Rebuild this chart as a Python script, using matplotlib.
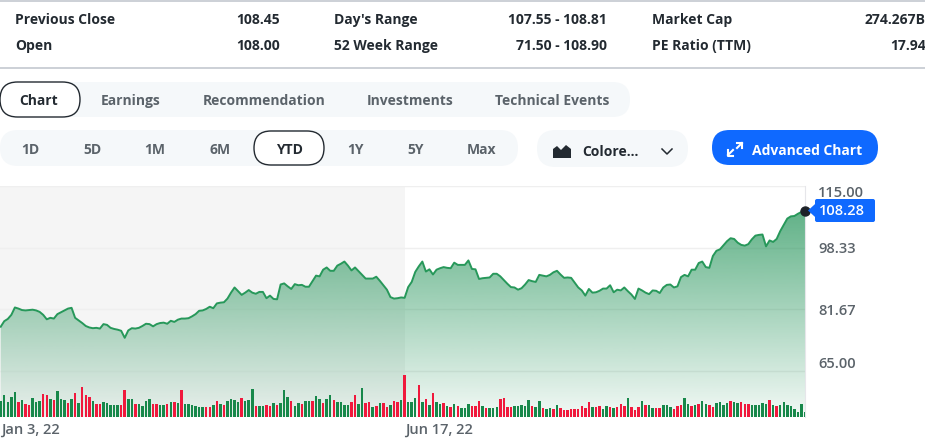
import matplotlib
matplotlib.use('Agg')
import matplotlib.pyplot as plt
from matplotlib.patches import FancyBboxPatch, Polygon
import numpy as np

plt.rcParams['font.family'] = ['Open Sans', 'DejaVu Sans']

# daily close, one per session since Jan 3
closes = [77.0, 78.5, 79.1, 80.2, 82.2, 81.9, 81.5, 81.4, 81.5, 81.6,
          81.4, 81.0, 80.2, 79.0, 79.4, 79.2, 80.4, 80.9, 81.4, 81.9,
          82.1, 79.4, 78.7, 78.0, 77.2, 76.8, 76.6, 76.7, 76.5, 77.7,
          77.5, 76.7, 76.4, 76.2, 75.9, 74.0, 76.0, 76.6, 76.5, 76.7,
          77.2, 77.8, 77.7, 77.1, 77.7, 78.0, 78.1, 77.8, 78.6, 78.3,
          78.9, 79.2, 79.2, 79.3, 79.8, 80.4, 81.3, 81.4, 81.8, 82.4,
          82.0, 83.3, 83.5, 83.6, 84.6, 86.2, 87.6, 86.6, 85.6, 86.2,
          86.9, 86.2, 85.9, 86.4, 86.4, 84.7, 85.4, 84.5, 84.4, 88.4,
          88.7, 87.9, 87.2, 88.5, 88.2, 88.3, 87.8, 87.8, 89.3, 90.8,
          90.6, 92.4, 93.0, 92.1, 92.1, 93.5, 94.0, 94.6, 93.5, 92.2,
          93.0, 92.0, 91.0, 90.0, 90.0, 90.0, 90.5, 89.4, 88.2, 87.0,
          85.0, 84.6, 84.7, 84.9, 84.8, 87.7, 89.1, 91.8, 93.3, 94.6,
          91.9, 92.5, 91.1, 92.4, 92.8, 93.1, 92.9, 92.8, 94.3, 93.7,
          93.7, 93.7, 94.9, 92.6, 92.5, 89.9, 90.1, 90.2, 90.3, 91.3,
          91.3, 90.6, 89.6, 88.6, 87.7, 87.6, 87.0, 87.4, 88.4, 89.6,
          89.3, 89.1, 91.0, 90.8, 90.6, 91.0, 91.7, 92.1, 91.1, 90.2,
          90.3, 90.2, 88.9, 87.6, 86.8, 85.4, 87.2, 86.2, 86.3, 86.7,
          87.3, 87.3, 88.2, 86.3, 87.0, 86.8, 87.6, 86.6, 85.7, 84.5,
          87.3, 86.8, 86.2, 85.8, 86.8, 86.7, 86.1, 87.6, 88.3, 88.4,
          87.6, 87.9, 90.4, 91.0, 90.6, 92.4, 92.4, 94.2, 94.6, 93.1,
          92.9, 96.1, 97.5, 97.9, 99.0, 100.1, 100.9, 100.7, 99.7, 99.1,
          98.9, 99.3, 100.6, 101.6, 101.8, 101.9, 98.7, 100.3, 99.9, 100.7,
          102.8, 104.5, 106.2, 106.8, 106.9, 107.5, 108.0, 108.28]

# volume in millions, rough scale
volumes = [23.5, 33.5, 22.5, 29.5, 37.5, 22.5, 25, 20, 18.5, 28,
           22.5, 23.5, 35, 33, 26.5, 25, 38.5, 27, 25, 21.5,
           27, 36.5, 21, 45, 33.5, 29.5, 24.5, 19, 19.5, 22.5,
           20.5, 17.5, 17.5, 17.5, 18, 40, 26.5, 27.5, 19, 19,
           16.5, 23.5, 27.5, 20, 19, 18, 18.5, 19.5, 22.5, 22,
           20.5, 40.5, 19.5, 20, 17.5, 16, 15, 14.5, 14.5, 15,
           18.5, 24.5, 20, 18, 23.5, 26.5, 25.5, 22.5, 28, 24.5,
           25, 42, 16, 17, 17, 17.5, 16, 20.5, 18, 21.5,
           40, 30.5, 23.5, 16.5, 21, 19, 23.5, 23.5, 24, 31,
           27.5, 21, 26.5, 33.5, 25, 22.5, 23, 18.5, 18, 22.5,
           33, 19, 43.5, 20.5, 22, 14.5, 17, 20.5, 20.5, 15,
           18, 23.5, 22.5, 25, 62.5, 23, 23, 28.5, 48.5, 23,
           26.5, 17.5, 36, 22.5, 19, 20.5, 16, 14.5, 19, 16,
           13, 13, 19, 17, 17, 23.5, 16.5, 13, 13, 13,
           14.5, 26.5, 29, 15, 15, 16.5, 16.5, 18, 17, 26,
           16.5, 15, 24, 13, 12, 13, 12.5, 17.5, 13.5, 10.5,
           11, 11.5, 11.5, 11.5, 16, 14, 22.5, 15.5, 14.5, 16.5,
           12.5, 16, 15, 13, 15, 19, 16.5, 29, 15.5, 11,
           14.5, 24, 17.5, 17.5, 13.5, 13.5, 14, 17.5, 18.5, 15,
           12, 16, 18, 28, 19, 16.5, 18.5, 19.5, 23.5, 19,
           17.5, 15.5, 20.5, 22, 17.5, 20.5, 24, 22, 21.5, 22,
           19, 19.5, 18, 17.5, 17.5, 21, 19, 26, 17.5, 16.5,
           17.5, 23, 18, 17, 11.5, 7.5, 19, 7]

# g = up day, r = down day
vol_dirs = ('gggggrgrrg' 'ggrrgrgggr' 'grgrrrgrrg' 'ggggrrggrg' 'gggrrggrgr'
            'grggggggrr' 'grgrggggrg' 'ggrggrrgrg' 'ggrggrggrg' 'grggrggggr'
            'rggrrgrgrr' 'grrg'
            'rgggrgrgrg' 'grgrgrgggr' 'rrgrgggrrr' 'rgggggrggr' 'ggrgrrrrrr'
            'rrrgrrggrg' 'rrrgrrrgrg' 'grrgggrrrg' 'grgrggrrgg' 'ggrggrrrgg'
            'gggrgrgggg' 'gggg')

price_ticks = [65.00, 81.67, 98.33, 115.00]
price_labels = ['65.00', '81.67', '98.33', '115.00']
date_ticks = [0, 114]
date_labels = ['Jan 3, 22', 'Jun 17, 22']
last_price = '108.28'

stats_labels = ['Previous Close', 'Open', "Day's Range", '52 Week Range', 'Market Cap', 'PE Ratio (TTM)']
stats_values = ['108.45', '108.00', '107.55 - 108.81', '71.50 - 108.90', '274.267B', '17.94']
tabs = ['Chart', 'Earnings', 'Recommendation', 'Investments', 'Technical Events']
ranges = ['1D', '5D', '1M', '6M', 'YTD', '1Y', '5Y', 'Max']

up_col = '#17884a'
down_col = '#f0183c'
line_col = '#27985a'
text_dark = '#232a31'
text_gray = '#5b636a'

sessions = np.arange(len(closes))
W, H = 925, 438

fig = plt.figure(figsize=[9.25, 4.38], dpi=100)

# price axes
chart_box = [0, (H-417)/H, 805/W, 231/H]
ax = fig.add_axes(chart_box)
xlim = -0.2, 227
ylim = 52.62, 115.0
ax.axvspan(xlim[0], date_ticks[1], color='#f5f5f5', lw=0, zorder=0)
ax.set_yticks(price_ticks)
ax.set_yticklabels(price_labels)
ax.yaxis.tick_right()
ax.grid(axis='y', color='#efefef', linewidth=1, zorder=1)
ax.set_axisbelow(True)
ax.set_xticks(date_ticks)
ax.set_xticklabels(date_labels, ha='left')
ax.tick_params(axis='both', length=0, labelsize=10.5, labelcolor=text_gray)
ax.tick_params(axis='y', pad=9.5)
ax.tick_params(axis='x', pad=4)
ylabs = ax.get_yticklabels()
ylabs[0].set_va('bottom')
ylabs[-1].set_va('top')
for lab in ylabs + ax.get_xticklabels():
    lab.set_fontweight(600)
for side in ['left', 'top', 'bottom']:
    ax.spines[side].set_visible(False)
ax.spines['right'].set_color('#e6e6ea')

# area under the line, fades towards the bottom
poly = ax.fill_between(sessions, closes, ylim[0], color='none', lw=0)
grad = np.zeros((256, 1, 4))
grad[:, 0, 0:3] = matplotlib.colors.to_rgb('#1e9155')
grad[:, 0, 3] = np.linspace(0.78, 0.06, 256)
im = ax.imshow(grad, extent=[xlim[0], xlim[1], ylim[0], ylim[1]], aspect='auto', zorder=2, origin='upper')
im.set_clip_path(poly.get_paths()[0], transform=ax.transData)
ax.plot(sessions, closes, color=line_col, linewidth=1.4, zorder=3)
ax.plot(sessions[-1], closes[-1], 'o', color='#1d2228', ms=6.5, zorder=5, clip_on=False)
ax.set_xlim(xlim)
ax.set_ylim(ylim)

# volume on its own scale, same box
vax = fig.add_axes(chart_box)
vax.bar(sessions, volumes, width=0.7, color=[up_col if d == 'g' else down_col for d in vol_dirs])
vax.set_xlim(xlim)
vax.set_ylim(0, 346.5)
vax.axis('off')

# page furniture, drawn in pixels
ui = fig.add_axes([0, 0, 1, 1])
ui.set_xlim(0, W)
ui.set_ylim(H, 0)
ui.axis('off')

def pill(x0, y0, x1, y1, fc, ec='none', r=None, lw=1.0):
    if r is None:
        r = (y1-y0)/2
    ui.add_patch(FancyBboxPatch((x0+r, y0+r), x1-x0-2*r, y1-y0-2*r,
                                boxstyle='round,pad=%f,rounding_size=%f' % (r, r),
                                fc=fc, ec=ec, lw=lw))

pill(-8, 1, 940, 68, 'white', ec='#b8bec6', r=5)

stat_x = [15, 15, 334, 334, 652, 652]
stat_r = [280, 280, 607, 607, 926, 926]
stat_y = [24, 50, 24, 50, 24, 50]
for i in range(len(stats_labels)):
    ui.text(stat_x[i], stat_y[i], stats_labels[i], fontsize=10, weight='bold', color=text_dark, va='baseline')
    ui.text(stat_r[i], stat_y[i], stats_values[i], fontsize=10, weight='bold', color=text_dark, va='baseline', ha='right')

pill(0, 82, 630, 117, '#f5f8fa')
pill(0, 82, 80, 117, 'white', ec=text_dark)
tab_x = [39, 131, 264, 410, 552]
for i in range(len(tabs)):
    ui.text(tab_x[i], 105, tabs[i], fontsize=10, weight='bold', ha='center', va='baseline',
            color=text_dark if i == 0 else text_gray)

pill(0, 130, 518, 166, '#f5f8fa')
pill(254, 131, 324, 165, 'white', ec=text_dark)
range_x = [30, 92, 155, 220, 289, 355, 416, 482]
for i in range(len(ranges)):
    ui.text(range_x[i], 154, ranges[i], fontsize=10, weight='bold', ha='center', va='baseline',
            color=text_dark if ranges[i] == 'YTD' else text_gray)

pill(537, 130, 688, 167, '#f5f8fa')
ui.add_patch(Polygon([(553, 158), (553, 149), (557, 146), (561, 150), (566, 145), (571, 149), (571, 158)],
                     fc=text_dark, ec='none'))
ui.text(582, 156, 'Colore...', fontsize=10, weight='bold', color=text_dark, va='baseline')
ui.plot([662, 667, 672], [149, 154, 149], color=text_dark, lw=1.1)

pill(712, 130, 878, 165, '#0f69ff')
ui.text(752, 155, 'Advanced Chart', fontsize=10, weight='bold', color='white', va='baseline')
ui.plot([728, 733], [155, 150], color='white', lw=1.5)
ui.plot([737, 742], [148, 143], color='white', lw=1.5)
ui.plot([728, 728, 733], [150, 155.5, 155.5], color='white', lw=1.5)
ui.plot([737, 742, 742], [142.5, 142.5, 148], color='white', lw=1.5)

# blue flag with the last price
pill(815, 199, 875, 222, '#0f69ff', r=2)
ui.add_patch(Polygon([(808, 210.5), (820, 199.5), (820, 221.5)], fc='#0f69ff', ec='none'))
ui.text(819, 211, last_price, fontsize=10.5, weight=600, color='white', va='center')

plt.savefig('out.png', dpi=100)
